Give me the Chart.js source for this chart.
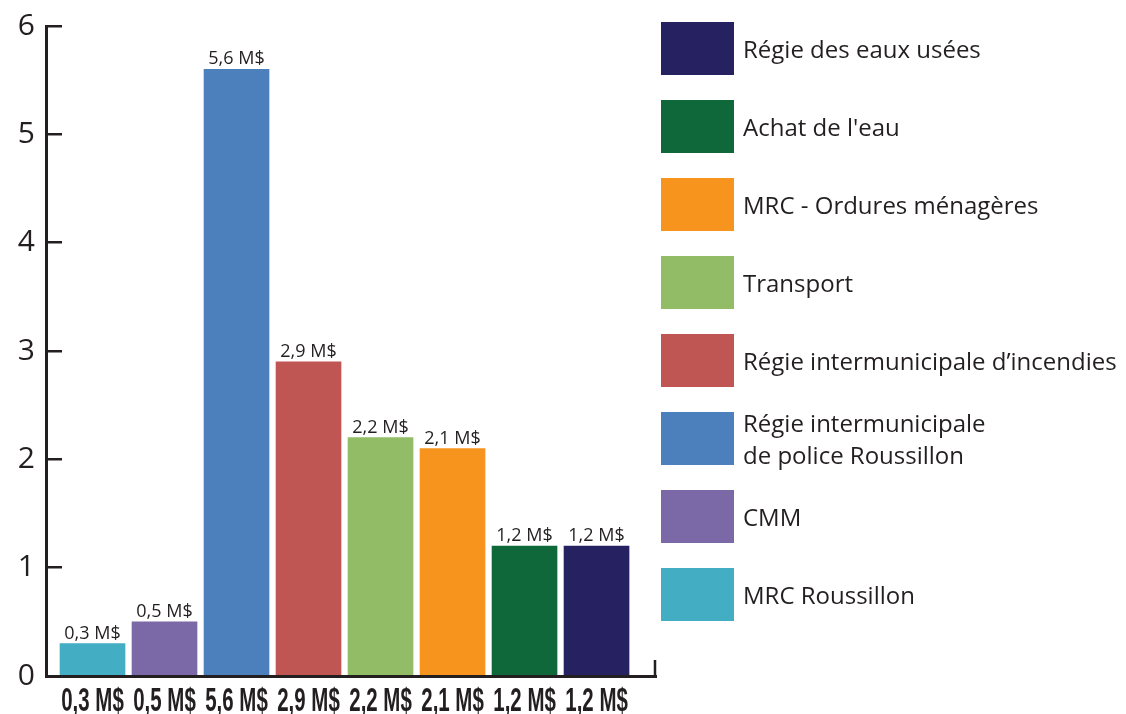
<!DOCTYPE html>
<html>
<head>
<meta charset="utf-8">
<script src="https://cdn.jsdelivr.net/npm/chart.js@4.4.1/dist/chart.umd.min.js"></script>
<style>
  body { margin: 0; background: #fff; }
  #wrap { position: relative; width: 1126px; height: 714px; }
  #legend { position: absolute; left: 661px; top: 22px; font-family: "Open Sans", sans-serif; font-size: 24px; color: #231f20; }
  .item { display: flex; align-items: center; height: 53px; margin-bottom: 25px; }
  .box { width: 73px; height: 53px; flex: none; margin-right: 9px; }
  .txt { line-height: 32px; }
</style>
</head>
<body>
<div id="wrap">
  <canvas id="chart" width="1126" height="714"></canvas>
  <div id="legend"></div>
</div>
<script>
const categories = [
  'MRC Roussillon',
  'CMM',
  ['Régie intermunicipale', 'de police Roussillon'],
  'Régie intermunicipale d’incendies',
  'Transport',
  'MRC - Ordures ménagères',
  "Achat de l'eau",
  'Régie des eaux usées'
];
const amounts = [0.3, 0.5, 5.6, 2.9, 2.2, 2.1, 1.2, 1.2];
const amountLabels = ['0,3 M$', '0,5 M$', '5,6 M$', '2,9 M$', '2,2 M$', '2,1 M$', '1,2 M$', '1,2 M$'];
const colors = ['#43adc4', '#7b68a6', '#4b80bd', '#c05654', '#92bc66', '#f7941d', '#0e6839', '#262161'];
const yTicks = [0, 1, 2, 3, 4, 5, 6];

const ink = '#231f20';
const squeeze = 0.62; // no condensed font installed, so the x labels get narrowed

// labels over each bar
const barValues = {
  id: 'barValues',
  afterDatasetsDraw(chart) {
    const ctx = chart.ctx;
    ctx.save();
    ctx.font = '18px "Open Sans"';
    ctx.fillStyle = ink;
    ctx.textAlign = 'center';
    ctx.textBaseline = 'alphabetic';
    chart.getDatasetMeta(0).data.forEach((bar, i) => {
      ctx.fillText(amountLabels[i], bar.x, bar.y - 5);
    });
    ctx.restore();
  }
};

// small tick at the right end of the x axis
const axisEnd = {
  id: 'axisEnd',
  afterDraw(chart) {
    const x = chart.scales.x;
    const px = x.getPixelForValue(x.max);
    const ctx = chart.ctx;
    ctx.save();
    ctx.strokeStyle = ink;
    ctx.lineWidth = 2.5;
    ctx.beginPath();
    ctx.moveTo(px - 1, chart.chartArea.bottom);
    ctx.lineTo(px - 1, chart.chartArea.bottom - 16);
    ctx.stroke();
    ctx.restore();
  }
};

// draw the x tick labels horizontally compressed
const condensedX = {
  id: 'condensedX',
  afterLayout(chart) {
    const scale = chart.scales.x;
    if (scale._squeezed) return;
    scale._squeezed = true;
    const drawLabels = scale.drawLabels;
    scale.drawLabels = function (area) {
      const items = this.getLabelItems(area);
      items.forEach(it => { it.options.translation[0] /= squeeze; });
      this.ctx.save();
      this.ctx.scale(squeeze, 1);
      drawLabels.call(this, area);
      this.ctx.restore();
      items.forEach(it => { it.options.translation[0] *= squeeze; });
    };
  }
};

new Chart(document.getElementById('chart'), {
  type: 'bar',
  data: {
    datasets: [{
      data: amounts.map((v, i) => ({ x: i, y: v })),
      backgroundColor: colors,
      barThickness: 65
    }]
  },
  options: {
    responsive: false,
    animation: false,
    layout: { padding: { top: 26, right: 470, left: 0, bottom: 0 } },
    plugins: { legend: { display: false }, tooltip: { enabled: false } },
    scales: {
      x: {
        type: 'linear',
        offset: false,
        min: -0.646,
        max: 7.826,
        afterBuildTicks: s => { s.ticks = amounts.map((v, i) => ({ value: i })); },
        afterFit: s => { s.height = 38; s.paddingLeft = 0; s.paddingRight = 0; },
        grid: { display: false, offset: false },
        border: { display: true, color: ink, width: 3 },
        ticks: {
          autoSkip: false,
          maxRotation: 0,
          padding: -2,
          color: ink,
          font: { family: '"Liberation Sans", Arial, sans-serif', size: 33, weight: 'bold' },
          callback: v => amountLabels[v]
        }
      },
      y: {
        min: 0,
        max: 6,
        afterBuildTicks: s => { s.ticks = yTicks.map(v => ({ value: v })); },
        afterFit: s => { s.width = 46; s.paddingTop = 0; s.paddingBottom = 0; },
        grid: { drawOnChartArea: false, drawTicks: true, tickLength: -16, color: ink, lineWidth: 2.5 },
        border: { display: true, color: ink, width: 3 },
        ticks: {
          padding: 27,
          color: ink,
          font: { family: '"Open Sans", sans-serif', size: 30 }
        }
      }
    }
  },
  plugins: [barValues, axisEnd, condensedX]
});

// legend, top item is the last bar
const legend = document.getElementById('legend');
categories.map((c, i) => i).reverse().forEach(i => {
  const item = document.createElement('div');
  item.className = 'item';
  const box = document.createElement('div');
  box.className = 'box';
  box.style.background = colors[i];
  const txt = document.createElement('div');
  txt.className = 'txt';
  txt.innerHTML = [].concat(categories[i]).join('<br>');
  item.append(box, txt);
  legend.append(item);
});
</script>
</body>
</html>
